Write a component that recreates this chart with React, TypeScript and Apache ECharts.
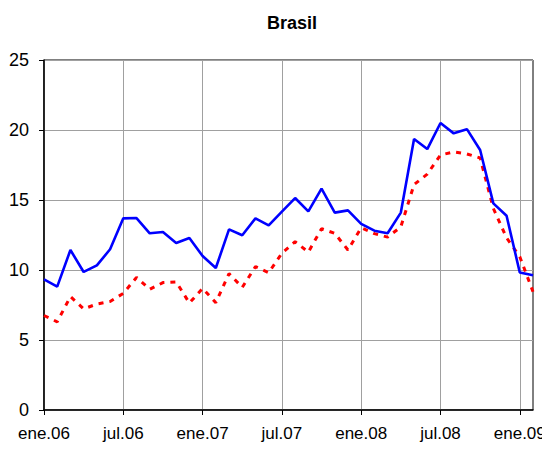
import React, { useEffect, useRef } from "react";
import * as echarts from "echarts";

const monthNames = ["ene", "feb", "mar", "abr", "may", "jun", "jul", "ago", "sep", "oct", "nov", "dic"];
const years = ["06", "07", "08", "09"];
const categories: string[] = [];
years.forEach((y) => monthNames.forEach((m) => categories.push(`${m}.${y}`)));
categories.splice(38);

const serieA = [
  9.33, 8.81, 11.43, 9.86, 10.33, 11.48, 13.69, 13.71, 12.62, 12.71, 11.93, 12.29,
  11.0, 10.14, 12.9, 12.48, 13.69, 13.19, 14.17, 15.14, 14.19, 15.81, 14.1, 14.26,
  13.29, 12.81, 12.62, 14.1, 19.36, 18.64, 20.5, 19.76, 20.06, 18.57, 14.76, 13.87,
  9.82, 9.62,
];

const serieB = [
  6.75, 6.3, 8.1, 7.22, 7.57, 7.75, 8.33, 9.47, 8.62, 9.1, 9.15, 7.64,
  8.69, 7.67, 9.74, 8.76, 10.24, 9.81, 11.2, 12.02, 11.28, 12.95, 12.62, 11.43,
  13.02, 12.6, 12.35, 13.08, 16.1, 16.85, 18.21, 18.44, 18.29, 18.0, 14.4, 12.3,
  10.95, 8.45,
];

const yMin = 0;
const yMax = 25;
const yStep = 5;

export default function App() {
  const ref = useRef<HTMLDivElement>(null);
  useEffect(() => {
    if (!ref.current) return;
    const chart = echarts.init(ref.current, undefined, { renderer: "svg" });
    chart.setOption({
      animation: false,
      backgroundColor: "#fff",
      textStyle: { fontFamily: "Liberation Sans, Arial, sans-serif" },
      title: {
        text: "Brasil",
        left: 287,
        top: 9,
        textAlign: "center",
        textStyle: { fontSize: 18, fontWeight: "bold", color: "#000", fontFamily: "Liberation Sans, Arial, sans-serif" },
      },
      grid: {
        left: 44,
        right: 17,
        top: 60,
        bottom: 40,
        show: true,
        borderColor: "#000",
        borderWidth: 1,
        backgroundColor: "transparent",
      },
      xAxis: {
        type: "category",
        data: categories,
        boundaryGap: false,
        axisLine: { show: true, lineStyle: { color: "#000", width: 1.5 } },
        axisTick: { show: true, interval: 5, length: 5, lineStyle: { color: "#000" } },
        axisLabel: { interval: 5, color: "#000", fontSize: 17, margin: 15, fontFamily: "Liberation Sans, Arial, sans-serif" },
        splitLine: { show: true, interval: 5, lineStyle: { color: "#a0a0a0", width: 1 } },
      },
      yAxis: {
        type: "value",
        min: yMin,
        max: yMax,
        interval: yStep,
        axisLine: { show: true, lineStyle: { color: "#000", width: 1.5 } },
        axisTick: { show: true, length: 5, lineStyle: { color: "#000" } },
        axisLabel: { color: "#000", fontSize: 18, margin: 15, fontFamily: "Liberation Sans, Arial, sans-serif" },
        splitLine: { show: true, lineStyle: { color: "#a0a0a0", width: 1 } },
      },
      series: [
        {
          type: "line",
          data: serieA,
          symbol: "none",
          lineStyle: { color: "#0000ff", width: 2.6 },
          z: 3,
        },
        {
          type: "line",
          data: serieB,
          symbol: "none",
          lineStyle: { color: "#ff0000", width: 3, type: [5, 6] },
          z: 2,
        },
      ],
    });
    return () => chart.dispose();
  }, []);
  return <div ref={ref} style={{ width: 550, height: 450, margin: -8 }} />;
}
